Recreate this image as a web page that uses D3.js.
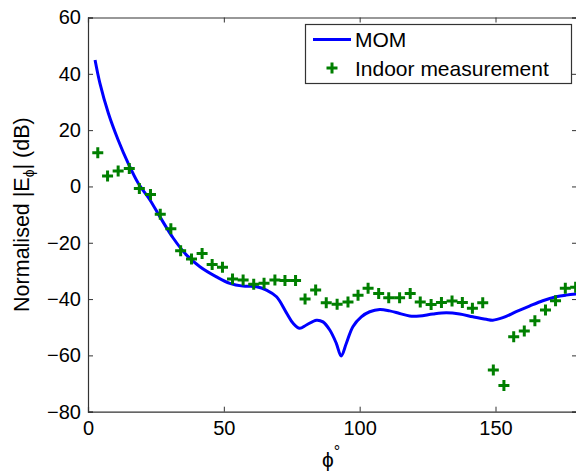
<!DOCTYPE html>
<html>
<head>
<meta charset="utf-8">
<script src="https://cdn.jsdelivr.net/npm/d3@7"></script>
<style>
    body { margin: 0; background: #fff; }
    text { font-family: "Liberation Sans", Arial, sans-serif; fill: #000; }
</style>
</head>
<body>
<div id="chart"></div>
<script>
// MOM simulation
var momPhi = [2.6, 4.4, 7.5, 11.1, 14.8, 18.5, 22.8, 26.5, 31.4, 36.3, 41.2, 47.3, 52.2, 57.1, 62, 65.7, 69.4, 73, 75.5, 77.9,
    80.4, 84.1, 86.5, 89, 91.4, 93.2, 95.1, 97.5, 100.6, 103.7, 107.4, 111, 114.7, 118.4, 122, 127, 131.9, 136.8, 141.7,
    146.6, 149, 152.7, 157.6, 162.5, 167.4, 172.3, 176, 180];
var momDb = [44.9, 36.6, 26, 16.5, 8.2, 1.1, -4.8, -10.8, -18.4, -24.4, -28.5, -32.1, -34.4, -35.4, -35.6, -36.8, -39.2, -44.8, -48.6, -50.4,
    -49.2, -47.5, -48.1, -51, -55.7, -60.2, -55.7, -49.8, -46.3, -44.5, -43.7, -44.2, -45.1, -46, -46, -45.3, -44.9, -45.3, -46.3,
    -47.2, -47.5, -46.6, -44.5, -42.5, -40.6, -39.2, -38.6, -38.2];

// indoor measurement
var measPhi = [3.6, 7.2, 11.1, 15.2, 18.9, 23, 26.6, 30.5, 34.1, 38.1, 42, 45.7, 49.5, 53.2, 57.1, 61, 64.8, 68.8, 72.5, 76.4,
    79.9, 83.8, 87.7, 91.7, 95.7, 99.4, 103.1, 107, 110.7, 114.7, 118.6, 122.3, 126.3, 130.1, 134, 137.8, 141.5, 145.3,
    149.2, 153.1, 156.7, 160.6, 164.5, 168.4, 172.1, 175.7, 179.5];
var measDb = [12, 3.7, 5.5, 6.4, -0.7, -2.9, -9.9, -15, -22.8, -25.8, -23.8, -27.7, -28.7, -32.9, -33.2, -34.7, -34.4, -33.2, -33.4, -33.4,
    -40, -36.8, -41.3, -41.8, -41, -38.6, -36.2, -38, -39.5, -39.5, -38, -41, -41.9, -41.2, -40.7, -41.2, -43.3, -41.3,
    -65.2, -70.7, -53.4, -51.3, -47.7, -43.9, -40.6, -36.2, -35.8];

var xTicks = [0, 50, 100, 150];
var yTicks = [-80, -60, -40, -20, 0, 20, 40, 60];
var legendLabels = ["MOM", "Indoor measurement"];

var width = 576, height = 473;
var margin = {left: 88, top: 17.5, right: 577, bottom: 411.7};
var blue = "#0000ff", green = "#007f00", axisColor = "#333";
var font = "Liberation Sans, Arial, sans-serif";

var svg = d3.select("#chart").append("svg")
    .attr("width", width)
    .attr("height", height);

var x = d3.scaleLinear().domain([0, 180]).range([margin.left, margin.right]);
var y = d3.scaleLinear().domain([-80, 60]).range([margin.bottom, margin.top]);

var plot = svg.append("g");

plot.append("clipPath").attr("id", "clip")
    .append("rect")
    .attr("x", margin.left).attr("y", margin.top)
    .attr("width", margin.right - margin.left).attr("height", margin.bottom - margin.top);

// MOM line
var line = d3.line()
    .x(function (d) { return x(d[0]); })
    .y(function (d) { return y(d[1]); })
    .curve(d3.curveCatmullRom.alpha(0.5));

plot.append("path")
    .datum(d3.zip(momPhi, momDb))
    .attr("clip-path", "url(#clip)")
    .attr("fill", "none")
    .attr("stroke", blue)
    .attr("stroke-width", 3)
    .attr("d", line);

// measurement markers
var plus = "M-5.5,0H5.5M0,-5.5V5.5";
plot.selectAll(".meas")
    .data(d3.zip(measPhi, measDb))
    .enter().append("path")
    .attr("class", "meas")
    .attr("transform", function (d) { return "translate(" + x(d[0]) + "," + y(d[1]) + ")"; })
    .attr("d", plus)
    .attr("fill", "none")
    .attr("stroke", green)
    .attr("stroke-width", 3);

// axes, ticks pointing inward, box round the plot
var axes = svg.append("g");

axes.append("g")
    .attr("transform", "translate(0," + margin.bottom + ")")
    .call(d3.axisBottom(x).tickValues(xTicks).tickSize(-5).tickPadding(9).tickFormat(d3.format("d")));
axes.append("g")
    .attr("transform", "translate(0," + margin.top + ")")
    .call(d3.axisTop(x).tickValues(xTicks).tickSize(-5).tickFormat(""));
axes.append("g")
    .attr("transform", "translate(" + margin.left + ",0)")
    .call(d3.axisLeft(y).tickValues(yTicks).tickSize(-5).tickPadding(7)
        .tickFormat(function (d) { return d < 0 ? "\u2212" + Math.abs(d) : d; }));
axes.append("g")
    .attr("transform", "translate(" + margin.right + ",0)")
    .call(d3.axisRight(y).tickValues(yTicks).tickSize(-5).tickFormat(""));

axes.selectAll("g").attr("font-size", 20).attr("font-family", font);
axes.selectAll(".domain").attr("stroke", axisColor).attr("stroke-width", 1.2);
axes.selectAll(".tick line").attr("stroke", axisColor);
axes.selectAll(".tick text").attr("fill", "#000");

// axis labels
var xLabel = svg.append("text")
    .attr("x", 331)
    .attr("y", 467)
    .attr("text-anchor", "middle")
    .attr("font-size", 21);
xLabel.append("tspan").text("\u03d5");
xLabel.append("tspan").attr("font-size", 16).attr("dy", -10).text("\u00b0");

var yLabel = svg.append("text")
    .attr("transform", "translate(29," + (margin.top + margin.bottom) / 2 + ") rotate(-90)")
    .attr("text-anchor", "middle")
    .attr("font-size", 21.5);
yLabel.append("tspan").text("Normalised |E");
yLabel.append("tspan").attr("font-size", 14).attr("dy", 5).text("\u03d5");
yLabel.append("tspan").attr("dy", -5).text("| (dB)");

// legend
var legend = svg.append("g");
legend.append("rect")
    .attr("x", 305.5).attr("y", 24.5)
    .attr("width", 266).attr("height", 59)
    .attr("fill", "#fff")
    .attr("stroke", axisColor)
    .attr("stroke-width", 1.2);
legend.append("line")
    .attr("x1", 313).attr("x2", 351)
    .attr("y1", 39.5).attr("y2", 39.5)
    .attr("stroke", blue).attr("stroke-width", 3);
legend.append("path")
    .attr("transform", "translate(332,68)")
    .attr("d", plus)
    .attr("fill", "none")
    .attr("stroke", green)
    .attr("stroke-width", 3);
legend.selectAll(".lbl")
    .data(legendLabels)
    .enter().append("text")
    .attr("class", "lbl")
    .attr("x", 355)
    .attr("y", function (d, i) { return 47 + i * 29; })
    .attr("font-size", 21)
    .text(function (d) { return d; });
</script>
</body>
</html>
